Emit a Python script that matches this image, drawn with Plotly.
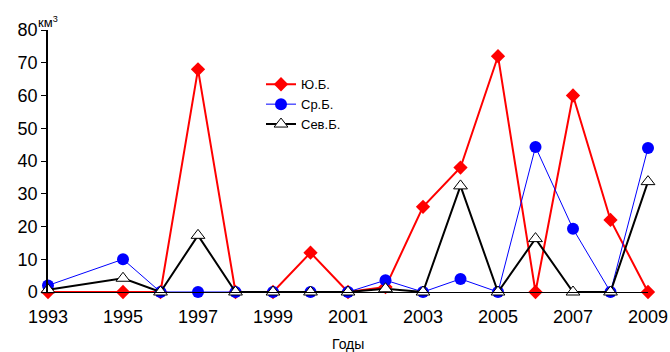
import plotly.graph_objects as go

years = [1993, 1995, 1996, 1997, 1998, 1999, 2000, 2001, 2002, 2003, 2004, 2005, 2006, 2007, 2008, 2009]
yub = [0, 0, 0, 68, 0, 0, 12, 0, 1.5, 26, 38, 72, 0, 60, 22, 0]
srb = [2, 10, 0, 0, 0, 0, 0, 0, 3.6, 0, 4, 0, 44.3, 19.3, 0, 44]
sevb = [0.7, 4.2, 0, 17.3, 0, 0, 0, 0, 1, 0, 32.4, 0, 16.3, 0, 0, 33.7]
names = ["Ю.Б.", "Ср.Б.", "Сев.Б."]
y_ticks = [0, 10, 20, 30, 40, 50, 60, 70, 80]
x_ticks = [1993, 1995, 1997, 1999, 2001, 2003, 2005, 2007, 2009]

FONT = "Liberation Sans, Arial, sans-serif"

fig = go.Figure()
fig.add_trace(go.Scatter(x=years, y=yub, name=names[0], mode="lines+markers",
                         line=dict(color="#ff0000", width=2),
                         marker=dict(symbol="diamond", size=11, color="#ff0000"),
                         cliponaxis=False))
fig.add_trace(go.Scatter(x=years, y=srb, name=names[1], mode="lines+markers",
                         line=dict(color="#0000ff", width=1),
                         marker=dict(symbol="circle", size=12, color="#0000ff"),
                         cliponaxis=False))
fig.add_trace(go.Scatter(x=years, y=sevb, name=names[2], mode="lines+markers",
                         line=dict(color="#000000", width=2),
                         marker=dict(symbol="triangle-up", size=12, color="#ffffff",
                                     line=dict(color="#000000", width=1)),
                         cliponaxis=False))

fig.update_layout(
    width=670, height=352,
    margin=dict(l=48, r=22, t=30, b=60, autoexpand=False),
    paper_bgcolor="white", plot_bgcolor="white",
    font=dict(family=FONT, color="#000000"),
    showlegend=True,
    legend=dict(x=0.355, y=0.85, xanchor="left", yanchor="top",
                font=dict(size=13, family=FONT), bgcolor="rgba(0,0,0,0)",
                tracegroupgap=0, itemwidth=30),
    xaxis=dict(range=[1993, 2009], tickvals=x_ticks, ticktext=[str(v) for v in x_ticks],
               showgrid=False, zeroline=False, showline=True, linecolor="#000000", linewidth=1,
               ticks="", tickfont=dict(size=18, family=FONT), ticklabelstandoff=8,
               automargin=False),
    yaxis=dict(range=[0, 80], tickvals=y_ticks, showgrid=False, zeroline=False,
               showline=True, linecolor="#000000", linewidth=1.5,
               ticks="outside", ticklen=5, tickwidth=1, tickcolor="#000000",
               tickfont=dict(size=18, family=FONT), automargin=False),
    annotations=[
        dict(text="Годы", x=0.5, y=-0.198, xref="paper", yref="paper", xanchor="center",
             yanchor="middle", showarrow=False, borderpad=0, font=dict(size=14, family=FONT)),
        dict(text="км<sup>3</sup>", x=0.0, y=1.0, xref="paper", yref="paper", xanchor="left",
             yanchor="bottom", showarrow=False, xshift=-12, yshift=-2,
             font=dict(size=13, family=FONT)),
    ],
)

fig.write_html("out.html")
